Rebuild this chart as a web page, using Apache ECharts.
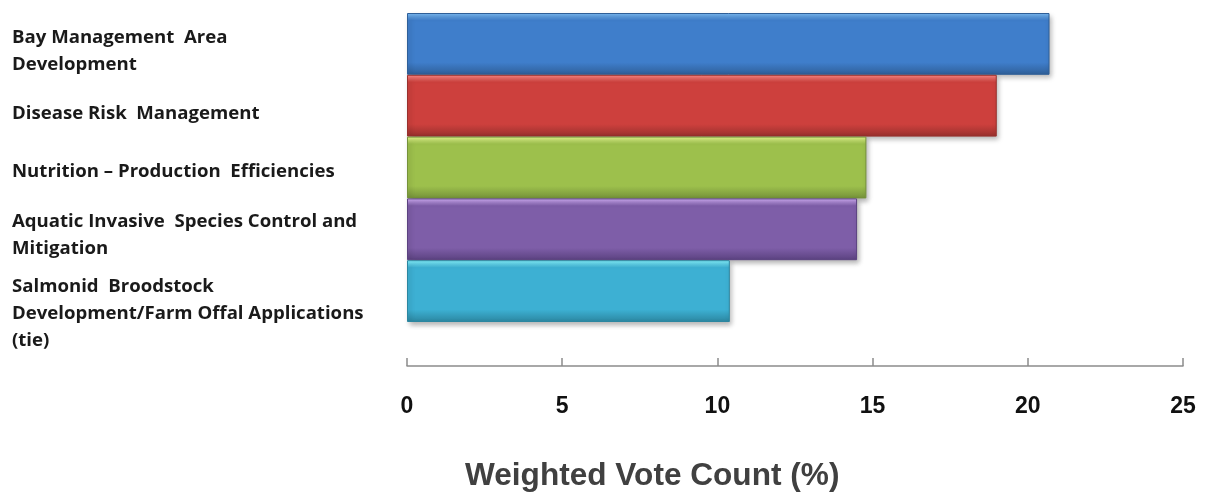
<!DOCTYPE html>
<html>
<head>
	<meta charset="UTF-8">
	<title></title>
	<script type="text/javascript" src="https://cdn.jsdelivr.net/npm/echarts@6/dist/echarts.min.js"></script>
	<style>
		html, body { margin:0; padding:0; background:#fff; }
		#main { width:1205px; height:493px; }
	</style>
</head>
<body>
<div id="main"></div>
<script>
	// 数据
	var categories = [
		'Bay Management  Area\nDevelopment',
		'Disease Risk  Management',
		'Nutrition – Production  Efficiencies',
		'Aquatic Invasive  Species Control and\nMitigation',
		'Salmonid  Broodstock\nDevelopment/Farm Offal Applications\n(tie)'
	];
	var voteValues = [20.7, 19.0, 14.8, 14.5, 10.4];
	var xTicks = [0, 5, 10, 15, 20, 25];

	// 每根柱子的渐变色 [顶部高光, 中间, 底部]
	var barColors = [
		['#7dbdf5', '#3f7ecb', '#2f5f98'],
		['#ff8a86', '#cd403d', '#98302d'],
		['#e6fb8e', '#9dc04c', '#75923a'],
		['#d2aef7', '#7e5ea8', '#5b4280'],
		['#86f4ff', '#3db0d3', '#2b86a0']
	];
	// 左侧文字下移用的空行高度
	var labelSpacer = [14, 16, 8, 12, 46];

	function grad(c){
		return new echarts.graphic.LinearGradient(0, 0, 0, 1, [
			{offset:0, color:c[0]},
			{offset:0.12, color:c[1]},
			{offset:0.8, color:c[1]},
			{offset:1, color:c[2]}
		]);
	}

	var rich = {t:{fontFamily:'Open Sans', fontWeight:'bold', fontSize:18.6, lineHeight:27, color:'#1a1a1a'}};
	for (var i = 0; i < labelSpacer.length; i++) {
		rich['s' + i] = {height:labelSpacer[i], lineHeight:labelSpacer[i], fontSize:1};
	}

	var myChart = echarts.init(document.getElementById('main'));
	var option = {
		animation:false,
		title:{
			text:'Weighted Vote Count (%)',
			left:460,
			top:455,
			textStyle:{fontFamily:'Liberation Sans', fontWeight:'bold', fontSize:31.6, color:'#404040'}
		},
		grid:{left:407, right:22, top:13, bottom:171, containLabel:false, outerBoundsMode:'none'},
		xAxis:{
			type:'value',
			min:xTicks[0],
			max:xTicks[xTicks.length-1],
			interval:5,
			offset:44,
			axisLine:{show:true, lineStyle:{color:'#8c8c8c', width:1.5}},
			axisTick:{show:true, inside:true, length:8, lineStyle:{color:'#8c8c8c', width:1.5}},
			splitLine:{show:false},
			axisLabel:{margin:29, fontFamily:'Liberation Sans', fontWeight:'bold', fontSize:23, color:'#111'}
		},
		yAxis:{
			type:'category',
			inverse:true,
			data:categories,
			axisLine:{show:false},
			axisTick:{show:false},
			axisLabel:{
				interval:0,
				hideOverlap:false,
				align:'left',
				margin:395,
				formatter:function(value, idx){
					var lines = value.split('\n').map(function(l){ return '{t|' + l + '}'; });
					return '{s' + idx + '| }\n' + lines.join('\n');
				},
				rich:rich
			}
		},
		series:[{
			type:'bar',
			barCategoryGap:0,
			data:voteValues.map(function(v, i){
				return {
					value:v,
					itemStyle:{
						color:grad(barColors[i]),
						borderColor:barColors[i][2],
						borderWidth:1,
						shadowColor:'rgba(0,0,0,0.3)',
						shadowBlur:5,
						shadowOffsetX:2,
						shadowOffsetY:3
					}
				};
			})
		}]
	};
	myChart.setOption(option);
	window.addEventListener('resize', function(){
		myChart.resize();
	});
</script>
</body>
</html>
